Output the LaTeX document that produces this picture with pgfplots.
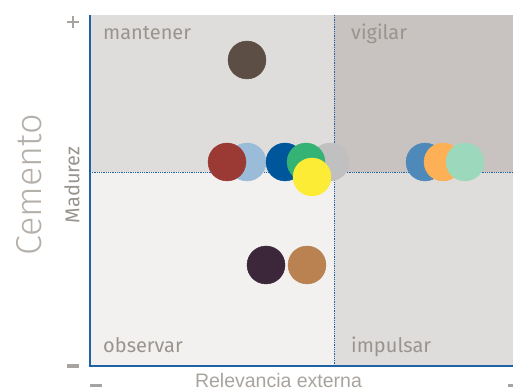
\documentclass[border=0pt]{standalone}
\usepackage{pgfplots}
\pgfplotsset{compat=1.18}
\usepackage{fontspec}
\setmainfont{Fira Sans}
\newfontfamily\lightfont{Fira Sans Light}
\newfontfamily\arialfont{Liberation Sans}
\definecolor{axblue}{HTML}{1F63A6}
\definecolor{qTL}{HTML}{DEDDDC}
\definecolor{qTR}{HTML}{C8C3C0}
\definecolor{qBL}{HTML}{F2F1F0}
\definecolor{qBR}{HTML}{DEDDDC}
\definecolor{labgrey}{HTML}{9A948F}
\definecolor{titgrey}{HTML}{B5AFAA}
\definecolor{tickgrey}{HTML}{A8A39E}
\definecolor{cDarkBrown}{HTML}{5C4D45}
\definecolor{cRed}{HTML}{9B3A35}
\definecolor{cLightBlue}{HTML}{9BBCD8}
\definecolor{cDarkBlue}{HTML}{00569A}
\definecolor{cGreen}{HTML}{34B374}
\definecolor{cGrey}{HTML}{C0C0C0}
\definecolor{cYellow}{HTML}{FDEC35}
\definecolor{cSteel}{HTML}{4F89B9}
\definecolor{cOrange}{HTML}{FDB056}
\definecolor{cMint}{HTML}{9CD8BB}
\definecolor{cPurple}{HTML}{3C2639}
\definecolor{cCopper}{HTML}{B98250}
\begin{document}
\begin{tikzpicture}
\path[use as bounding box] (0,0) rectangle (513bp,391bp);
\begin{axis}[
  at={(90bp,25bp)}, anchor=south west,
  scale only axis, width=423bp, height=351bp,
  xmin=0, xmax=423, ymin=0, ymax=351,
  xtick=\empty, ytick=\empty,
  axis lines*=left,
  axis line style={draw=none},
  clip=false,
  every axis plot/.append style={only marks, mark=*, mark size=19bp, mark options={draw=none}},
]
% quadrants
\fill[qBL] (axis cs:0,0) rectangle (axis cs:244,194);
\fill[qBR] (axis cs:244,0) rectangle (axis cs:423,194);
\fill[qTL] (axis cs:0,194) rectangle (axis cs:244,351);
\fill[qTR] (axis cs:244,194) rectangle (axis cs:423,351);
\draw[axblue, densely dotted, line width=0.8bp] (axis cs:244,0) -- (axis cs:244,351);
\draw[axblue, densely dotted, line width=0.8bp] (axis cs:0,194) -- (axis cs:423,194);
\draw[axblue, line width=2bp] (axis cs:0,351) -- (axis cs:0,0) -- (axis cs:423,0);
% quadrant labels
\node[anchor=base west, text=labgrey, font=\fontsize{20bp}{23bp}\selectfont, inner sep=0pt] at (axis cs:13,326) {mantener};
\node[anchor=base west, text=labgrey, font=\fontsize{20bp}{23bp}\selectfont, inner sep=0pt] at (axis cs:261,326) {vigilar};
\node[anchor=base west, text=labgrey, font=\fontsize{20bp}{23bp}\selectfont, inner sep=0pt] at (axis cs:13,14) {observar};
\node[anchor=base west, text=labgrey, font=\fontsize{20bp}{23bp}\selectfont, inner sep=0pt] at (axis cs:261,14) {impulsar};
% bubbles
\addplot[color=cDarkBrown] coordinates {(157,306)};
\addplot[color=cLightBlue] coordinates {(157,204)};
\addplot[color=cRed] coordinates {(137,204)};
\addplot[color=cGrey] coordinates {(240,204)};
\addplot[color=cDarkBlue] coordinates {(195,204)};
\addplot[color=cGreen] coordinates {(216,204)};
\addplot[color=cYellow] coordinates {(222,189)};
\addplot[color=cSteel] coordinates {(335,204)};
\addplot[color=cOrange] coordinates {(353,204)};
\addplot[color=cMint] coordinates {(375,204)};
\addplot[color=cPurple] coordinates {(176,101)};
\addplot[color=cCopper] coordinates {(217,101)};
% axis texts
\node[rotate=90, text=titgrey, font=\lightfont\fontsize{36bp}{40bp}\selectfont] at (axis cs:-61,181) {Cemento};
\node[rotate=90, text=labgrey, font=\fontsize{20bp}{23bp}\selectfont] at (axis cs:-18,181) {Madurez};
\node[anchor=base, text=tickgrey, inner sep=0pt, text depth=0pt, font=\arialfont\fontsize{19.5bp}{21bp}\selectfont] at (axis cs:188.5,-21.5) {Relevancia externa};
% +/- marks
\draw[tickgrey, line width=2.5bp] (axis cs:-23,344) -- (axis cs:-11,344);
\draw[tickgrey, line width=2.5bp] (axis cs:-17,338) -- (axis cs:-17,350);
\draw[tickgrey, line width=3bp] (axis cs:-23,0) -- (axis cs:-11,0);
\draw[tickgrey, line width=3bp] (axis cs:0,-19) -- (axis cs:12,-19);
\draw[tickgrey, line width=3bp] (axis cs:418,-19) -- (axis cs:424,-19);
\end{axis}
\end{tikzpicture}
\end{document}
